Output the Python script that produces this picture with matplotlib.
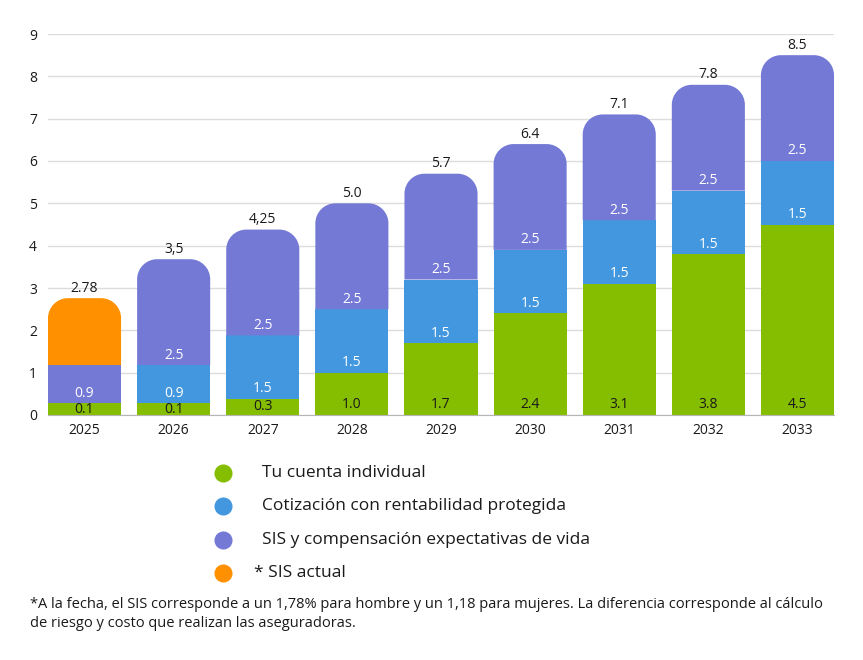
import matplotlib.pyplot as plt
from matplotlib.path import Path
from matplotlib.patches import PathPatch
from matplotlib.lines import Line2D
import numpy as np

plt.rcParams['font.family'] = ['Open Sans', 'DejaVu Sans']

years = ['2025', '2026', '2027', '2028', '2029', '2030', '2031', '2032', '2033']
# drawn heights
cuenta = [0.28, 0.28, 0.38, 1.0, 1.7, 2.4, 3.1, 3.8, 4.5]
cotizacion = [0, 0.9, 1.5, 1.5, 1.5, 1.5, 1.5, 1.5, 1.5]
sis_comp = [0.9, 2.5, 2.5, 2.5, 2.5, 2.5, 2.5, 2.5, 2.5]
sis_actual = [1.58, 0, 0, 0, 0, 0, 0, 0, 0]
# printed labels
cuenta_lbl = ['0.1', '0.1', '0.3', '1.0', '1.7', '2.4', '3.1', '3.8', '4.5']
cotizacion_lbl = ['', '0.9', '1.5', '1.5', '1.5', '1.5', '1.5', '1.5', '1.5']
sis_comp_lbl = ['0.9', '2.5', '2.5', '2.5', '2.5', '2.5', '2.5', '2.5', '2.5']
total_lbl = ['2.78', '3,5', '4,25', '5.0', '5.7', '6.4', '7.1', '7.8', '8.5']

legend_names = ['Tu cuenta individual', 'Cotización con rentabilidad protegida',
                'SIS y compensación expectativas de vida', '* SIS actual']
colors = ['#85bd00', '#4397de', '#7479d6', '#ff9100']
label_colors = ['#1a1a1a', 'white', 'white', 'white']

nota = ('*A la fecha, el SIS corresponde a un 1,78% para hombre y un 1,18 para mujeres. '
        'La diferencia corresponde al cálculo\nde riesgo y costo que realizan las aseguradoras.')

W, H, DPI = 863, 660, 100
fig = plt.figure(figsize=(W / DPI, H / DPI), dpi=DPI)
ax_l, ax_r, ax_t, ax_b = 48, 834, 34, 415
ax = fig.add_axes([ax_l / W, 1 - ax_b / H, (ax_r - ax_l) / W, (ax_b - ax_t) / H])

bw = 0.82
x = np.arange(len(years))
ax.set_xlim(-bw / 2, len(years) - 1 + bw / 2)
ax.set_ylim(0, 9)
px_x = (ax_r - ax_l) / (len(years) - 1 + bw)
px_y = (ax_b - ax_t) / 9.0


def rounded_top(ax, xc, bottom, height, width, color, r_px=20):
    rx = r_px / px_x
    ry = r_px / px_y
    k = 0.5523
    x0, x1 = xc - width / 2, xc + width / 2
    t = bottom + height
    verts = [(x0, bottom), (x1, bottom), (x1, t - ry),
             (x1, t - ry + k * ry), (x1 - rx + k * rx, t), (x1 - rx, t),
             (x0 + rx, t),
             (x0 + rx - k * rx, t), (x0, t - ry + k * ry), (x0, t - ry),
             (x0, bottom)]
    codes = [Path.MOVETO, Path.LINETO, Path.LINETO,
             Path.CURVE4, Path.CURVE4, Path.CURVE4,
             Path.LINETO,
             Path.CURVE4, Path.CURVE4, Path.CURVE4,
             Path.CLOSEPOLY]
    ax.add_patch(PathPatch(Path(verts, codes), facecolor=color, edgecolor='none', zorder=3))


series = [cuenta, cotizacion, sis_comp, sis_actual]
labels = [cuenta_lbl, cotizacion_lbl, sis_comp_lbl, [''] * len(years)]

for i in range(len(years)):
    vals = [s[i] for s in series]
    top_idx = max(j for j, v in enumerate(vals) if v > 0)
    base = 0
    for j, v in enumerate(vals):
        if v <= 0:
            continue
        if j == top_idx:
            rounded_top(ax, x[i], base, v, bw, colors[j])
        else:
            ax.bar(x[i], v, bw, bottom=base, color=colors[j], zorder=3,
                   edgecolor='none')
        if labels[j][i]:
            off_px = min(10, v * px_y / 2)
            ax.annotate(labels[j][i], (x[i], base), xytext=(0, off_px * 0.72),
                        textcoords='offset points', ha='center', va='center',
                        fontsize=10, color=label_colors[j], zorder=4)
        base += v
    ax.annotate(total_lbl[i], (x[i], base), xytext=(0, 7.2),
                textcoords='offset points', ha='center', va='center',
                fontsize=10, color='#1a1a1a', zorder=4)

ax.set_xticks(x)
ax.set_xticklabels(years)
ax.set_yticks(range(10))
ax.tick_params(axis='both', length=0, labelsize=10, colors='#1a1a1a')
ax.tick_params(axis='x', pad=6)
ax.tick_params(axis='y', pad=8)
ax.grid(axis='y', color='#dcdcdc', linewidth=1, zorder=0)
ax.set_axisbelow(True)
for s in ['top', 'right', 'left']:
    ax.spines[s].set_visible(False)
ax.spines['bottom'].set_color('#b5b5b5')
ax.spines['bottom'].set_zorder(5)

# legend
leg_y = [473, 506, 540, 573]
leg_tx = [262, 262, 262, 254]
for c, name, yy, tx in zip(colors, legend_names, leg_y, leg_tx):
    fig.add_artist(Line2D([223 / W], [1 - yy / H], marker='o', markersize=12,
                          color=c, linestyle='none', transform=fig.transFigure))
    fig.text(tx / W, 1 - yy / H, name, fontsize=12.5, va='center', ha='left',
             color='#1a1a1a')

fig.text(30 / W, 1 - 597 / H, nota, fontsize=10.5, va='top', ha='left',
         color='#1a1a1a', linespacing=1.35)

fig.savefig('out.png', dpi=DPI)
